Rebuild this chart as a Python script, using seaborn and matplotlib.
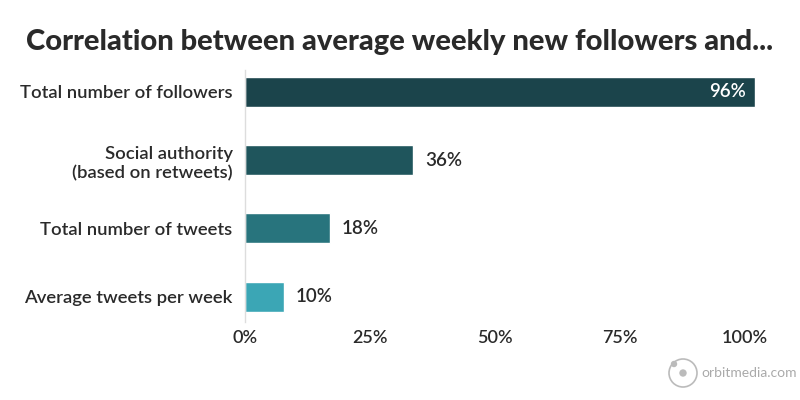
import matplotlib
matplotlib.use("Agg")
import matplotlib.pyplot as plt
import seaborn as sns
import pandas as pd
from matplotlib.patches import Ellipse

categories = ["Total number of followers", "Social authority\n(based on retweets)",
              "Total number of tweets", "Average tweets per week"]
bar_lengths = [102, 33.6, 17, 7.8]   # bar extents as drawn in the picture (% of axis)
value_labels = ["96%", "36%", "18%", "10%"]
colors = ["#1b444b", "#1f555c", "#28747d", "#3ba6b5"]
xticks = [0, 25, 50, 75, 100]
xtick_labels = ["0%", "25%", "50%", "75%", "100%"]

sns.set_style("white")
plt.rcParams["font.family"] = ["Lato", "DejaVu Sans"]

df = pd.DataFrame({"cat": categories, "val": bar_lengths})

fig = plt.figure(figsize=(8, 4), dpi=100)
ax = fig.add_axes([245/800, 1-322/400, 500/800, 252/400])
sns.barplot(data=df, y="cat", x="val", hue="cat", palette=colors, orient="h",
            width=0.44, legend=False, ax=ax, saturation=1)
for p in ax.patches:
    p.set_clip_on(False)
ax.set_xlim(0, 100)
ax.set_ylim(3.37, -0.32)
ax.set_xlabel("")
ax.set_ylabel("")
ax.set_xticks(xticks)
ax.set_xticklabels(xtick_labels, fontsize=13, color="#2a2a2a", fontweight="semibold")
ax.set_yticks(range(len(categories)))
ax.set_yticklabels(categories, fontsize=13.3, color="#2a2a2a", linespacing=1.25,
                   fontweight="semibold")
ax.tick_params(axis="y", length=0, pad=9)
ax.tick_params(axis="x", length=0, pad=6)
for s in ["top", "right", "bottom"]:
    ax.spines[s].set_visible(False)
ax.spines["left"].set_color("#dddddd")
ax.spines["left"].set_linewidth(1)

for i, (v, lab) in enumerate(zip(bar_lengths, value_labels)):
    if i == 0:
        ax.text(v - 1.8, i, lab, ha="right", va="center", color="white", fontsize=13.5,
                fontweight="semibold")
    else:
        ax.text(v + 2.4, i, lab, ha="left", va="center", color="#2a2a2a", fontsize=13.5,
                fontweight="semibold")

fig.text(0.5, 0.895, "Correlation between average weekly new followers and...",
         ha="center", va="center", fontsize=21, fontweight="black", color="#2a2a2a")

# logo
cx, cy = 683/800, 1-373/400
fig.patches.append(Ellipse((cx, cy), 28/800, 28/400, transform=fig.transFigure,
                           fill=False, edgecolor="#bbbbbb", linewidth=1.2, figure=fig))
fig.patches.append(Ellipse((cx, cy), 6/800, 6/400, transform=fig.transFigure,
                           color="#bbbbbb", figure=fig))
fig.patches.append(Ellipse((674/800, 1-364/400), 5/800, 5/400, transform=fig.transFigure,
                           color="#bbbbbb", figure=fig))
fig.text(701/800, cy, "orbitmedia.com", ha="left", va="center",
         fontsize=10, color="#aaaaaa")

fig.savefig("out.png", dpi=100, facecolor="white")
